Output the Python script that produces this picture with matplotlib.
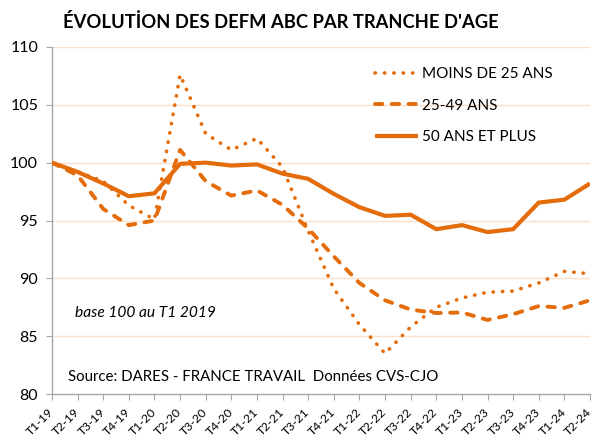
import numpy as np
import matplotlib.pyplot as plt
import matplotlib.transforms as mtransforms

# Quarters, T1-19 .. T2-24
quarters = ['T1-19', 'T2-19', 'T3-19', 'T4-19', 'T1-20', 'T2-20', 'T3-20', 'T4-20',
			'T1-21', 'T2-21', 'T3-21', 'T4-21', 'T1-22', 'T2-22', 'T3-22', 'T4-22',
			'T1-23', 'T2-23', 'T3-23', 'T4-23', 'T1-24', 'T2-24']

moins_25 = [100.0, 99.2, 98.4, 96.3, 95.1, 107.6, 102.5, 101.1, 102.1, 99.6, 94.1,
			89.1, 86.0, 83.5, 85.8, 87.5, 88.3, 88.8, 88.9, 89.6, 90.6, 90.4]
de_25_49 = [100.0, 98.9, 96.0, 94.6, 95.0, 101.1, 98.4, 97.15, 97.6, 96.35, 94.3,
			91.9, 89.6, 88.1, 87.3, 87.0, 87.05, 86.4, 86.9, 87.6, 87.45, 88.1]
plus_50 = [100.0, 99.2, 98.2, 97.1, 97.35, 99.9, 100.0, 99.75, 99.85, 99.05, 98.6,
		   97.3, 96.15, 95.4, 95.5, 94.25, 94.6, 94.0, 94.25, 96.55, 96.8, 98.2]

orange = '#E46C0A'
grid_color = '#FBE0CC'
axis_color = '#A6A6A6'
font = ['Lato', 'DejaVu Sans']

plt.rcParams['font.family'] = font

fig = plt.figure(figsize=(5.92, 4.43), dpi=100)
ax = fig.add_axes([52 / 592, 1 - 394 / 443, 538 / 592, 347 / 443])

x = np.arange(len(quarters))
ax.plot(x, moins_25, color=orange, lw=2.6, linestyle=(0, (0.1, 2.5)),
		dash_capstyle='round', label='MOINS DE 25 ANS', zorder=3)
ax.plot(x, de_25_49, color=orange, lw=2.8, linestyle=(0, (1.9, 2.4)),
		dash_capstyle='round', label='25-49 ANS', zorder=3)
ax.plot(x, plus_50, color=orange, lw=3.0, solid_capstyle='butt',
		label='50 ANS ET PLUS', zorder=3)

ax.set_xlim(0, len(quarters) - 1)
ax.set_ylim(80, 110)
ax.set_yticks(np.arange(80, 111, 5))
ax.set_xticks(x)
ax.set_xticklabels(quarters, rotation=45, ha='right', rotation_mode='anchor')

for v in range(85, 111, 5):
	ax.axhline(v, color=grid_color, lw=1.0, zorder=1)

for s in ['top', 'right']:
	ax.spines[s].set_visible(False)
for s in ['left', 'bottom']:
	ax.spines[s].set_color(axis_color)
	ax.spines[s].set_linewidth(1.0)
ax.spines['bottom'].set_zorder(2)

ax.tick_params(axis='y', length=4, color=axis_color, labelsize=11.5, pad=6)
ax.tick_params(axis='x', length=4, color=axis_color, labelsize=8.8, pad=5)

leg = ax.legend(loc='upper left', bbox_to_anchor=((375 - 52) / 538, 1 - (67 - 47) / 347),
				frameon=False, fontsize=11, handlelength=2.8, handletextpad=0.3,
				labelspacing=1.15, borderaxespad=0, borderpad=0)

fig.text(63 / 592, 1 - 22 / 443, "ÉVOLUTİON DES DEFM ABC PAR TRANCHE D'AGE",
		 fontsize=13.2, fontweight='bold', va='center', ha='left')
ax.text(75 / 592, 1 - 313 / 443, 'base 100 au T1 2019', transform=fig.transFigure,
		fontsize=11.2, style='italic', va='center', ha='left')
ax.text(68 / 592, 1 - 377 / 443, 'Source: DARES - FRANCE TRAVAIL  Données CVS-CJO',
		transform=fig.transFigure, fontsize=10.8, va='center', ha='left')

# shift the rotated labels a few pixels left so the last one stays in the figure
fig.canvas.draw()
shift = mtransforms.ScaledTranslation(-4 / 100, 0, fig.dpi_scale_trans)
for tick in ax.xaxis.get_major_ticks():
	tick.label1.set_transform(tick.label1.get_transform() + shift)

fig.savefig('out.png', dpi=100)
plt.close(fig)
